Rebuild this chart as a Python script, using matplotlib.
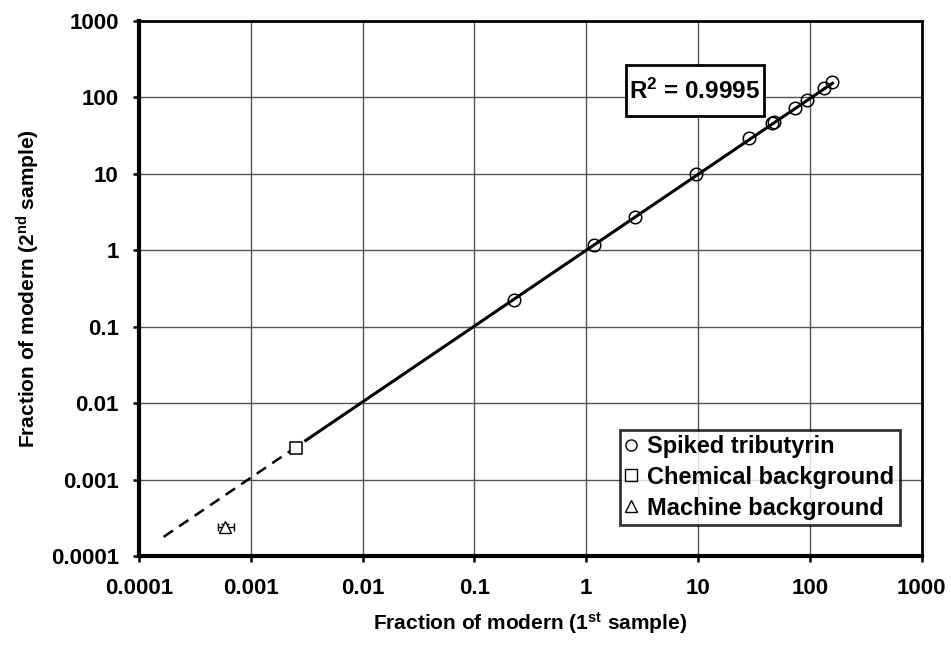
import numpy as np
import matplotlib
matplotlib.use("Agg")
import matplotlib.pyplot as plt
from matplotlib.lines import Line2D
from matplotlib.patches import Rectangle

plt.rcParams['font.family'] = ['Liberation Sans', 'DejaVu Sans']
plt.rcParams['font.weight'] = 'bold'
plt.rcParams['mathtext.fontset'] = 'custom'
plt.rcParams['mathtext.rm'] = 'Liberation Sans:bold'
plt.rcParams['mathtext.bf'] = 'Liberation Sans:bold'
plt.rcParams['mathtext.it'] = 'Liberation Sans:bold'

# Data
spiked_x = [0.225, 1.17, 2.72, 9.7, 28.5, 46.0, 48.0, 73.5, 95.0, 133.0, 158.0]
spiked_y = [0.224, 1.16, 2.70, 10.0, 29.5, 46.5, 48.0, 73.0, 93.0, 134.0, 158.0]
chem_x = [0.00256]
chem_y = [0.00259]
mach_x = [0.000586]
mach_y = [0.00024]
mach_xerr_lo = [0.00008]
mach_xerr_hi = [0.00012]
mach_yerr = [0.00002]

# Power-law fit  y = 10**c * x**b
fit_b = 0.992
fit_c = 0.0
fit_solid_x = [0.0031, 160.0]
fit_dash_x = [0.000166, 0.0025]
r2_text = r"R$^{2}$ = 0.9995"

x_ticks = [0.0001, 0.001, 0.01, 0.1, 1, 10, 100, 1000]
x_tick_labels = ['0.0001', '0.001', '0.01', '0.1', '1', '10', '100', '1000']
y_ticks = x_ticks
y_tick_labels = x_tick_labels

fig = plt.figure(figsize=(9.51, 6.48), dpi=100)
ax = fig.add_axes([139/951, 1-556/648, (921.5-139)/951, (556-21)/648])
ax.set_xscale('log')
ax.set_yscale('log')
ax.set_xlim(0.0001, 1000)
ax.set_ylim(0.0001, 1000)

def fit(xs):
    xs = np.asarray(xs, dtype=float)
    return 10**fit_c * xs**fit_b

ax.plot(fit_solid_x, fit(fit_solid_x), color='black', lw=2.2, zorder=3)
ax.plot(fit_dash_x, fit(fit_dash_x), color='black', lw=1.8, ls=(0, (4.5, 3)), zorder=3)

ax.plot(spiked_x, spiked_y, ls='none', marker='o', ms=9, mfc='none', mec='black', mew=1.1, zorder=4)
ax.plot(chem_x, chem_y, ls='none', marker='s', ms=8.5, mfc='white', mec='black', mew=1.1, zorder=4)
ax.errorbar(mach_x, mach_y, xerr=[mach_xerr_lo, mach_xerr_hi], yerr=[mach_yerr, mach_yerr],
            fmt='^', ms=8, mfc='white', mec='black', mew=1.0, ecolor='black',
            elinewidth=1.0, capsize=3, capthick=1.0, zorder=4)

ax.set_xticks(x_ticks)
ax.set_xticklabels(x_tick_labels)
ax.set_yticks(y_ticks)
ax.set_yticklabels(y_tick_labels)
ax.minorticks_off()
ax.tick_params(axis='both', which='major', labelsize=16, width=1.8, length=4.5,
               direction='out', color='black')
ax.tick_params(axis='x', pad=11)
ax.tick_params(axis='y', pad=10)
for lab in ax.get_xticklabels() + ax.get_yticklabels():
    lab.set_fontweight('bold')

ax.grid(True, which='major', color='#555555', lw=1.0)
ax.set_axisbelow(True)

for s in ['left', 'bottom']:
    ax.spines[s].set_linewidth(3.0)
for s in ['top', 'right']:
    ax.spines[s].set_linewidth(2.0)

ax.set_xlabel(r"Fraction of modern (1$^{\rm st}$ sample)", fontsize=15, fontweight='bold', labelpad=8)
ax.set_ylabel(r"Fraction of modern (2$^{\rm nd}$ sample)", fontsize=15, fontweight='bold', labelpad=6)

ax.add_patch(Rectangle((0.6224, 0.8224), 0.1763, 0.0954, transform=ax.transAxes,
                       fc='white', ec='black', lw=2.0, zorder=6))
ax.text(0.7105, 0.869, r2_text, transform=ax.transAxes, fontsize=17.5, fontweight='bold',
        ha='center', va='center', zorder=7)

handles = [
    Line2D([], [], ls='none', marker='o', ms=8, mfc='none', mec='black', mew=1.0),
    Line2D([], [], ls='none', marker='s', ms=8, mfc='none', mec='black', mew=1.0),
    Line2D([], [], ls='none', marker='^', ms=8, mfc='none', mec='black', mew=1.0),
]
labels = ['Spiked tributyrin', 'Chemical background', 'Machine background']
leg = ax.legend(handles, labels, loc='lower right', bbox_to_anchor=(0.9725, 0.058),
                prop={'weight': 'bold', 'size': 17}, frameon=True, fancybox=False,
                edgecolor='black', handlelength=0.5, handletextpad=0.45,
                borderpad=0.23, labelspacing=0.33, borderaxespad=0.0)
leg.get_frame().set_linewidth(2.0)
leg.set_zorder(8)

fig.savefig('out.png', dpi=100)
